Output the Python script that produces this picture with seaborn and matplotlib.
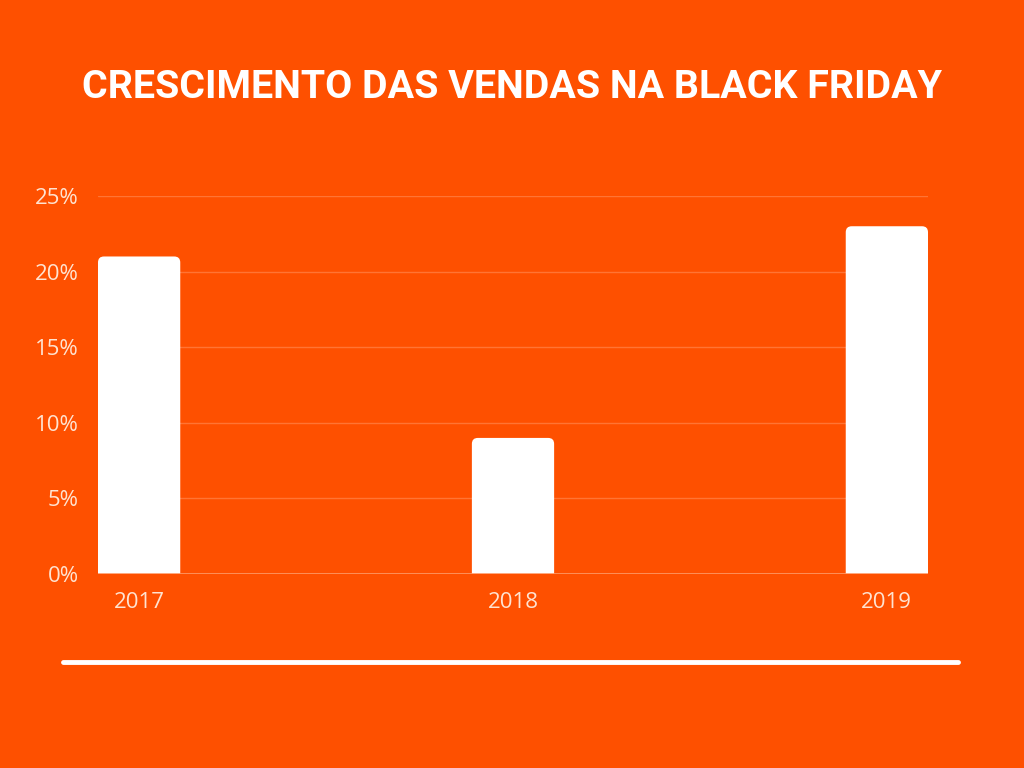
import matplotlib
matplotlib.use("Agg")
import matplotlib.pyplot as plt
import seaborn as sns
import pandas as pd
from matplotlib.patches import FancyBboxPatch
from matplotlib.lines import Line2D

# data
anos = ["2017", "2018", "2019"]
crescimento = [21, 9, 23]
yticks = [0, 5, 10, 15, 20, 25]
titulo = "CRESCIMENTO DAS VENDAS NA BLACK FRIDAY"

bg = "#FE5000"
label_col = "#FFE3D1"

sns.set_theme(style="white")
plt.rcParams['font.family'] = ['Open Sans', 'DejaVu Sans']

df = pd.DataFrame({"ano": anos, "valor": crescimento})

fig = plt.figure(figsize=(10.24, 7.68), dpi=100, facecolor=bg)
ax = fig.add_axes([98 / 1024, 194 / 768, 830 / 1024, 378 / 768])
ax.set_facecolor(bg)

sns.barplot(data=df, x="ano", y="valor", color="white", width=0.22, ax=ax,
            saturation=1)

# rounded tops
for p in list(ax.patches):
    x0, w, h = p.get_x(), p.get_width(), p.get_height()
    p.set_visible(False)
    rb = FancyBboxPatch((x0, -1), w, h + 1,
                        boxstyle="round,pad=0,rounding_size=0.016",
                        mutation_aspect=24.6, facecolor="white",
                        edgecolor="none", zorder=3, clip_on=True)
    ax.add_patch(rb)

ax.set_xlim(-0.11, 2.11)
ax.set_ylim(0, 25)
ax.set_yticks(yticks)
ax.set_yticklabels([f"{v}%" for v in yticks])
ax.grid(axis="y", color="#FF7434", linewidth=1)
ax.set_axisbelow(True)
for s in ax.spines.values():
    s.set_visible(False)
ax.axhline(0, color="#FF9866", linewidth=1.2, zorder=4)
ax.tick_params(axis="y", length=0, pad=14, labelsize=16, labelcolor=label_col)
ax.tick_params(axis="x", length=0, pad=13, labelsize=16, labelcolor=label_col)
ax.set_xlabel("")
ax.set_ylabel("")

t = fig.text(0.5, 1 - 87 / 768, titulo, ha="center", va="center", color="white",
             fontsize=32, fontweight="bold", family=["Roboto", "DejaVu Sans"])
# shrink title to fit the reference width (~864 px)
fig.canvas.draw()
wpx = t.get_window_extent().width
if wpx > 864:
    t.set_fontsize(32 * 864 / wpx)

fig.add_artist(Line2D([63 / 1024, 958 / 1024], [1 - 662 / 768, 1 - 662 / 768],
                      color="white", linewidth=3.5))

fig.savefig("out.png", dpi=100, facecolor=bg)
